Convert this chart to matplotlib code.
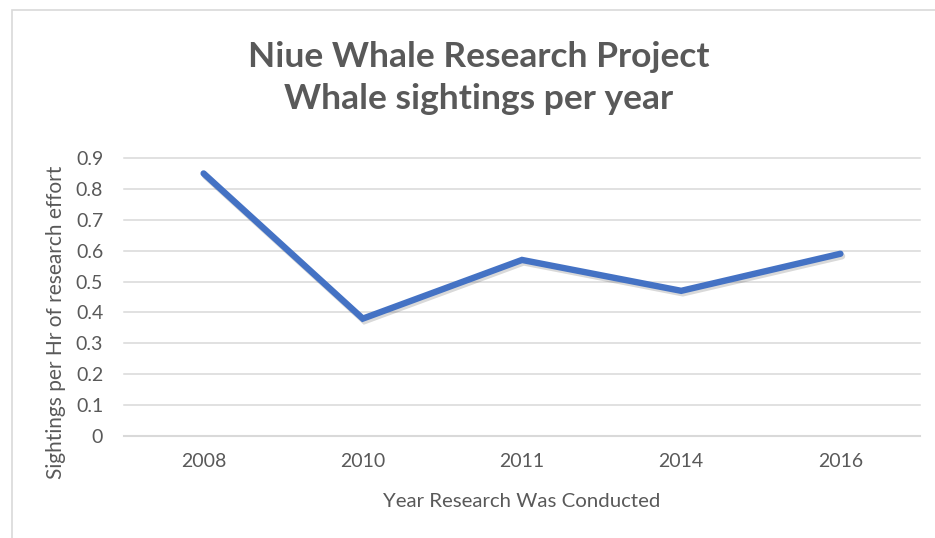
import matplotlib
matplotlib.use("Agg")
import matplotlib.pyplot as plt
import matplotlib.patheffects as pe
from matplotlib.patches import Rectangle

years = ["2008", "2010", "2011", "2014", "2016"]
sightings = [0.85, 0.38, 0.57, 0.47, 0.59]
yticks = [0, 0.1, 0.2, 0.3, 0.4, 0.5, 0.6, 0.7, 0.8, 0.9]
ytick_labels = ["0", "0.1", "0.2", "0.3", "0.4", "0.5", "0.6", "0.7", "0.8", "0.9"]

plt.rcParams['font.family'] = ['Lato', 'DejaVu Sans']
text_color = "#595959"

W, H = 935, 538
fig = plt.figure(figsize=(W/100, H/100), dpi=100)
fig.patches.append(Rectangle((12/W, -0.1), 1.2, (H-10)/H + 0.1, transform=fig.transFigure,
                             fill=False, edgecolor="#D9D9D9", linewidth=1.2))

ax = fig.add_axes([124/W, (H-436)/H, (920-124)/W, (436-158)/H])
x = list(range(len(years)))
ax.plot(x, sightings, color="#4472C4", linewidth=4.6, solid_capstyle="round", solid_joinstyle="miter",
        path_effects=[pe.SimpleLineShadow(offset=(1.2, -1.8), shadow_color="black", alpha=0.15, rho=0.3),
                      pe.Normal()],
        zorder=3)
ax.set_xlim(-0.5, len(years) - 0.5)
ax.set_ylim(0, 0.9)
ax.set_xticks(x)
ax.set_xticklabels(years)
ax.set_yticks(yticks)
ax.set_yticklabels(ytick_labels)
ax.tick_params(axis="both", length=0, labelsize=14, colors=text_color)
ax.tick_params(axis="x", pad=12)
ax.tick_params(axis="y", pad=15)
ax.grid(axis="y", color="#D9D9D9", linewidth=1.1)
ax.set_axisbelow(True)
for s in ["top", "right", "left"]:
    ax.spines[s].set_visible(False)
ax.spines["bottom"].set_color("#D9D9D9")
ax.spines["bottom"].set_linewidth(1.5)
for gl in ax.get_ygridlines():
    gl.set_clip_on(False)

ax.set_xlabel("Year Research Was Conducted", fontsize=14.7, color=text_color, va="baseline")
ax.xaxis.set_label_coords((521.5-124)/796, (436-507)/278)
ax.set_ylabel("Sightings per Hr of research effort", fontsize=15, color=text_color, ha="center", va="center")
ax.yaxis.set_label_coords((56-124)/796, (436-322)/278)

cx = 479/W
fig.text(cx, (H-67)/H, "Niue Whale Research Project", ha="center", va="baseline",
         fontsize=25.5, fontweight="bold", color=text_color)
fig.text(cx, (H-109)/H, "Whale sightings per year", ha="center", va="baseline",
         fontsize=25.5, fontweight="bold", color=text_color)

fig.savefig("out.png", dpi=100)
